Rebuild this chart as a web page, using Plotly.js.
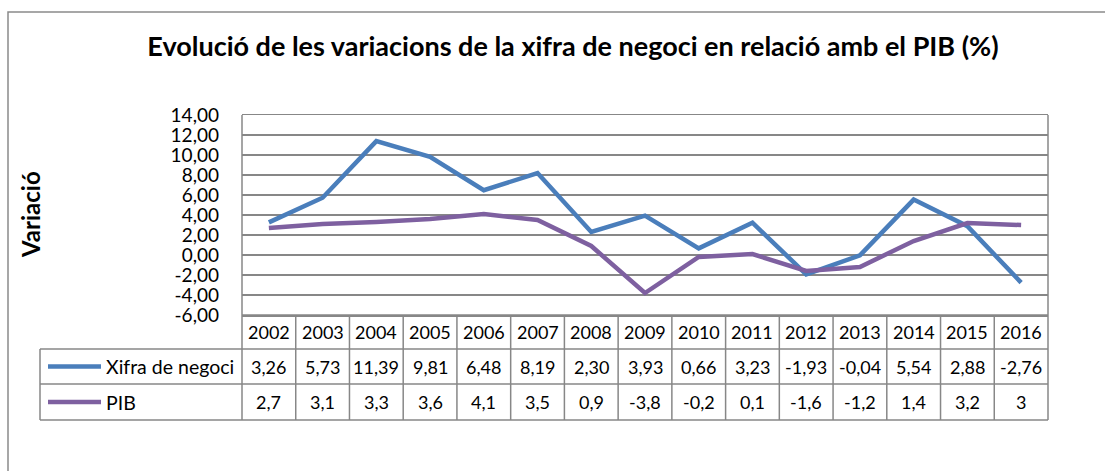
<!DOCTYPE html>
<html>
<head>
<meta charset="utf-8">
<script src="https://cdn.plot.ly/plotly-3.0.1.min.js"></script>
<style>html,body{margin:0;padding:0;background:#fff;}#chart{width:1105px;height:471px;}</style>
</head>
<body>
<div id="chart"></div>
<script>
const years = ["2002","2003","2004","2005","2006","2007","2008","2009","2010","2011","2012","2013","2014","2015","2016"];
const seriesNames = ["Xifra de negoci", "PIB"];
const xifra = [3.26, 5.73, 11.39, 9.81, 6.48, 8.19, 2.30, 3.93, 0.66, 3.23, -1.93, -0.04, 5.54, 2.88, -2.76];
const pib = [2.7, 3.1, 3.3, 3.6, 4.1, 3.5, 0.9, -3.8, -0.2, 0.1, -1.6, -1.2, 1.4, 3.2, 3];
const yTicks = [-6, -4, -2, 0, 2, 4, 6, 8, 10, 12, 14];
const titleText = "Evolució de les variacions de la xifra de negoci en relació amb el PIB (%)";
const yTitle = "Variació";

const W = 1105, H = 471;
const L = 242, R = 1048, T = 115, B = 315;
const FONT = "Lato, 'Open Sans', sans-serif";
const GRID = "#878787";
const colors = ["#4A7EBB", "#7E60A0"];
const px = x => (x - L) / (R - L);
const py = y => (B - y) / (B - T);

const fmt2 = v => v.toFixed(2).replace(".", ",");
const fmtG = v => String(v).replace(".", ",");

const shapes = [];
const ann = [];

// outer frame
shapes.push({type:"rect", xref:"paper", yref:"paper", x0:px(8), x1:px(1112), y0:py(12), y1:py(485), line:{color:"#8a8a8a", width:1.5}, fillcolor:"rgba(0,0,0,0)"});
// table horizontal lines
[349, 384, 420].forEach(y => shapes.push({type:"line", xref:"paper", yref:"paper", x0:px(40), x1:1, y0:py(y), y1:py(y), line:{color:GRID, width:1.5}}));
shapes.push({type:"line", xref:"paper", yref:"paper", x0:0, x1:1, y0:0, y1:0, line:{color:GRID, width:1.5}});
// vertical lines
shapes.push({type:"line", xref:"paper", yref:"paper", x0:0, x1:0, y0:py(420), y1:1, line:{color:GRID, width:1.5}});
shapes.push({type:"line", xref:"paper", yref:"paper", x0:1, x1:1, y0:py(420), y1:1, line:{color:GRID, width:1.5}});
shapes.push({type:"line", xref:"paper", yref:"paper", x0:px(40), x1:px(40), y0:py(420), y1:py(349), line:{color:GRID, width:1.5}});
for (let i = 0; i < years.length - 1; i++) {
  shapes.push({type:"line", xref:"x", yref:"paper", x0:i+0.5, x1:i+0.5, y0:py(420), y1:0, line:{color:GRID, width:1.5}});
}
// legend swatches
const rowCenters = [(349+384)/2, (384+420)/2];
seriesNames.forEach((n, k) => {
  shapes.push({type:"line", xref:"paper", yref:"paper", x0:px(48), x1:px(101), y0:py(rowCenters[k]), y1:py(rowCenters[k]), line:{color:colors[k], width:4.5}});
  ann.push({xref:"paper", yref:"paper", x:px(104), y:py(rowCenters[k]), text:n, showarrow:false, xanchor:"left", yanchor:"middle", font:{family:FONT, size:19.5, color:"#000"}});
});
// table cells
years.forEach((yr, i) => {
  ann.push({xref:"x", yref:"paper", x:i, y:py((315+349)/2), text:yr, showarrow:false, xanchor:"center", yanchor:"middle", font:{family:FONT, size:18, color:"#000"}});
  ann.push({xref:"x", yref:"paper", x:i, y:py(rowCenters[0]), text:fmt2(xifra[i]), showarrow:false, xanchor:"center", yanchor:"middle", font:{family:FONT, size:18, color:"#000"}});
  ann.push({xref:"x", yref:"paper", x:i, y:py(rowCenters[1]), text:fmtG(pib[i]), showarrow:false, xanchor:"center", yanchor:"middle", font:{family:FONT, size:18, color:"#000"}});
});
// y title
ann.push({xref:"paper", yref:"paper", x:px(30), y:0.5, text:"<b>"+yTitle+"</b>", textangle:-90, showarrow:false, xanchor:"center", yanchor:"middle", font:{family:FONT, size:24, color:"#000"}});

const traces = [
  {x: years, y: xifra, name: seriesNames[0], type:"scatter", mode:"lines", line:{color:colors[0], width:4.5}},
  {x: years, y: pib, name: seriesNames[1], type:"scatter", mode:"lines", line:{color:colors[1], width:4.5}}
];

const layout = {
  width: W, height: H, autosize:false,
  margin:{l:L, r:W-R, t:T, b:H-B, pad:0},
  paper_bgcolor:"#fff", plot_bgcolor:"#fff",
  showlegend:false,
  title:{text:"<b>"+titleText+"</b>", x:573/W, xref:"container", xanchor:"center", y:1-47/H, yref:"container", yanchor:"middle", font:{family:FONT, size:27, color:"#000"}},
  xaxis:{type:"category", range:[-0.5, years.length-0.5], showticklabels:false, showgrid:false, zeroline:false, showline:true, mirror:true, linecolor:GRID, linewidth:1.5, ticks:""},
  yaxis:{range:[-6, 14], tickmode:"array", tickvals:yTicks, ticktext:yTicks.map(fmt2), showgrid:true, gridcolor:GRID, gridwidth:1.5, zeroline:false, showline:false, ticks:"", ticklabelstandoff:22, tickfont:{family:FONT, size:19, color:"#000"}},
  shapes: shapes,
  annotations: ann
};
Plotly.newPlot("chart", traces, layout, {displayModeBar:false, staticPlot:true});
</script>
</body>
</html>
